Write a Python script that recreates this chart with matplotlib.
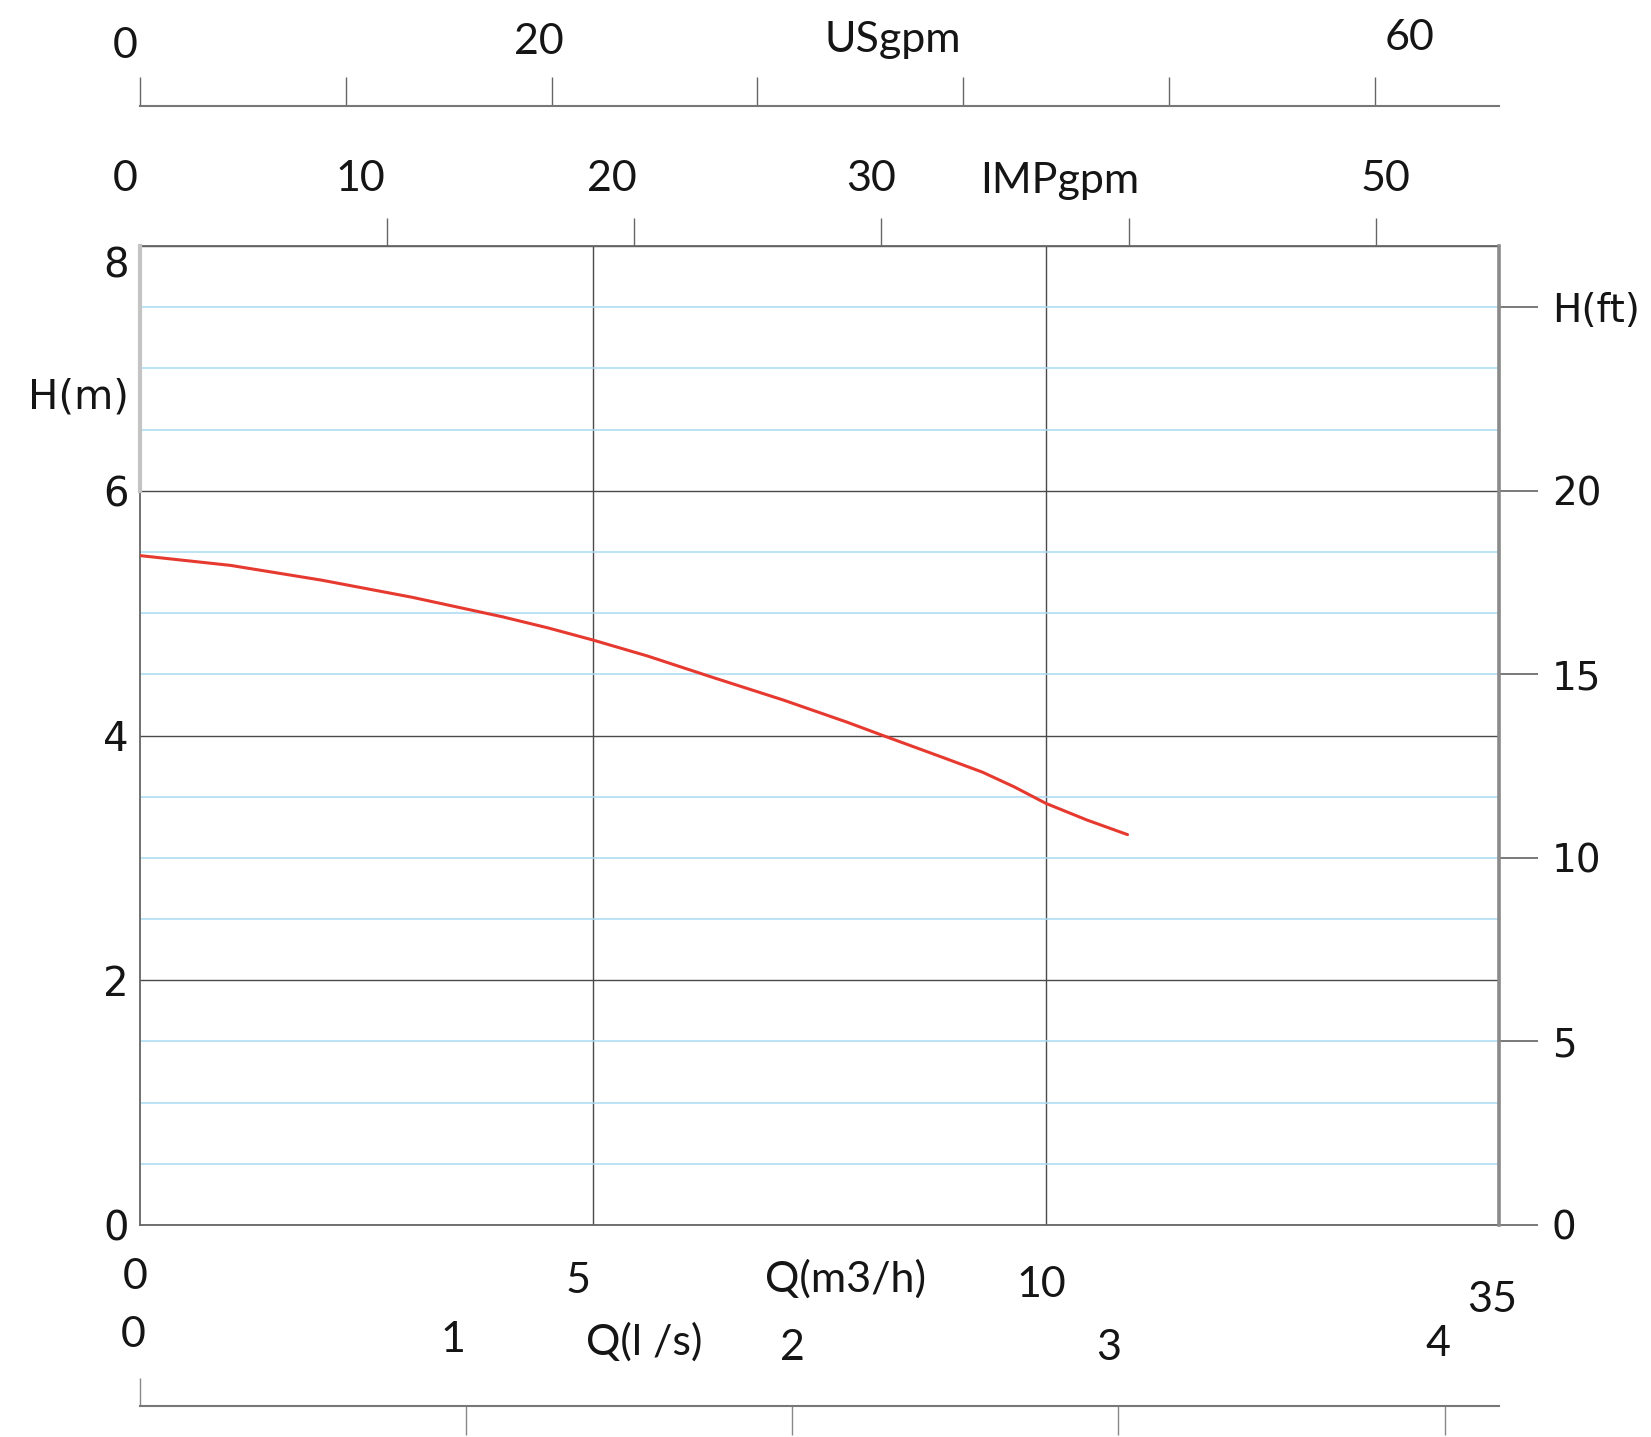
import numpy as np
import matplotlib
matplotlib.use("Agg")
import matplotlib.pyplot as plt
from matplotlib.transforms import blended_transform_factory as blend

# ---------------- data ----------------
flow_m3h = [0, 0.5, 1, 1.5, 2, 2.5, 3, 3.5, 4, 4.5, 5, 5.6, 6.3, 7.1, 7.8, 8.2, 8.9, 9.3,
            9.65, 10, 10.45, 10.9]
head_m = [5.47, 5.43, 5.39, 5.33, 5.27, 5.20, 5.13, 5.05, 4.97, 4.88, 4.78, 4.65,
          4.48, 4.29, 4.11, 4.00, 3.81, 3.70, 3.58, 3.445, 3.31, 3.19]

x_max_m3h = 15
y_max_m = 8
m3h_grid = [5, 10]
head_major = [0, 2, 4, 6, 8]
head_minor = list(np.arange(0, 8.01, 0.5))

US_PER_M3H = 4.403
IMP_PER_M3H = 3.666
LS_PER_M3H = 1 / 3.6
M_PER_FT = 0.3

us_ticks = [0, 10, 20, 30, 40, 50, 60]
us_labels = ["0", "20", "USgpm", "60"]
us_label_at = [-0.7, 19.4, 36.6, 61.7]

imp_ticks = [10, 20, 30, 40, 50]
imp_labels = ["0", "10", "20", "30", "IMPgpm", "50"]
imp_label_at = [-0.6, 8.9, 19.1, 29.6, 37.2, 50.4]

m3h_labels = ["0", "5", "Q(m3/h)", "10", "35"]
m3h_label_at = [-0.05, 4.84, 7.79, 9.95, 14.92]

ls_ticks = [1, 2, 3, 4]
ls_labels = ["0", "1", "Q(l /s)", "2", "3", "4"]
ls_label_at = [-0.02, 0.96, 1.545, 2.0, 2.97, 3.98]

ft_ticks = [0, 5, 10, 15, 20, 25]
ft_labels = ["0", "5", "10", "15", "20", "H(ft)"]

# ---------------- layout ----------------
W, H = 1651, 1437
fig = plt.figure(figsize=(W / 100, H / 100), dpi=100)
fig.patch.set_facecolor("white")


def fy(px):
    return 1 - px / H


L, R, T, B = 140, 1499, 246, 1225
ax = fig.add_axes([L / W, fy(B), (R - L) / W, (B - T) / H])
ax.set_xlim(0, x_max_m3h)
ax.set_ylim(0, y_max_m)

TXT = "#151515"
SANS = "Lato"
VER = "DejaVu Sans"

# grid
ax.set_xticks(m3h_grid)
ax.set_yticks(head_major)
ax.set_yticks(head_minor, minor=True)
ax.grid(which="major", axis="both", color="#4a4a4a", lw=1.0, zorder=1)
ax.grid(which="minor", axis="y", color="#a8daf2", lw=1.1, zorder=1)
ax.tick_params(axis="x", which="both", length=0, labelbottom=False)
ax.tick_params(axis="y", which="both", length=0, pad=8, labelsize=29, labelcolor=TXT)
ax.set_yticklabels([str(v) for v in head_major])
for lab in ax.get_yticklabels():
    lab.set_fontfamily(VER)
ax.get_yticklabels()[-1].set_verticalalignment("top")
for s in ax.spines.values():
    s.set_color("#666666")
    s.set_linewidth(1.3)
ax.plot([0, 0], [6, 8], color="#c4c4c4", lw=3.0, clip_on=False, zorder=3)

# curve
ax.plot(flow_m3h, head_m, color="#e63a30", lw=2.2, zorder=4,
        solid_capstyle="round", solid_joinstyle="round")

# H(m) label
fig.text(78 / W, fy(398), "H(m)", ha="center", va="center", fontsize=29,
         family=VER, color=TXT)

# right ft axis
ax2 = ax.twinx()
ax2.set_ylim(0, y_max_m / M_PER_FT)
ax2.set_yticks(ft_ticks)
ax2.set_yticklabels(ft_labels)
ax2.tick_params(axis="y", direction="out", length=28, width=1.1, color="#555555",
                pad=10, labelsize=28, labelcolor=TXT)
for lab in ax2.get_yticklabels():
    lab.set_fontfamily(VER)
for i, t in enumerate(ax2.yaxis.get_major_ticks()):
    if ft_ticks[i] in (10, 15):
        t.tick2line.set_color("#b0b0b0")
for k, s in ax2.spines.items():
    if k == "right":
        s.set_color("#8a8a8a")
        s.set_linewidth(2.6)
    else:
        s.set_visible(False)

# top IMPgpm axis (ticks on plot top border)
ax_imp = ax.secondary_xaxis("top", functions=(lambda q: q * IMP_PER_M3H,
                                              lambda g: g / IMP_PER_M3H))
ax_imp.set_xticks(imp_ticks)
ax_imp.set_xticklabels([""] * len(imp_ticks))
ax_imp.tick_params(direction="out", length=20, width=1.0, color="#666666")
ax_imp.spines["top"].set_visible(False)

# USgpm axis line
ax_us = fig.add_axes([L / W, fy(106), (R - L) / W, 1 / H])
ax_us.set_xlim(0, x_max_m3h * US_PER_M3H)
ax_us.set_xticks(us_ticks)
ax_us.set_xticklabels([])
ax_us.tick_params(axis="x", direction="in", length=21, width=1.0, color="#666666")
ax_us.set_yticks([])
ax_us.patch.set_visible(False)
for k, s in ax_us.spines.items():
    if k == "bottom":
        s.set_color("#777777")
        s.set_linewidth(1.5)
    else:
        s.set_visible(False)

# l/s axis line
ax_ls = fig.add_axes([L / W, fy(1406), (R - L) / W, 1 / H])
ax_ls.set_xlim(0, x_max_m3h * LS_PER_M3H)
ax_ls.set_xticks(ls_ticks)
ax_ls.set_xticks([0], minor=True)
ax_ls.set_xticklabels([])
ax_ls.tick_params(axis="x", which="major", direction="out", length=21, width=1.0,
                  color="#888888")
ax_ls.tick_params(axis="x", which="minor", direction="in", length=20, width=1.0,
                  color="#888888")
ax_ls.set_yticks([])
ax_ls.patch.set_visible(False)
for k, s in ax_ls.spines.items():
    if k == "bottom":
        s.set_color("#777777")
        s.set_linewidth(1.5)
    else:
        s.set_visible(False)

# axis texts (x in each unit converted to m3/h, y in figure px)
tr = blend(ax.transData, fig.transFigure)
us_y = [46, 42, 40, 38]
for lab, v, yy in zip(us_labels, us_label_at, us_y):
    ax.text(v / US_PER_M3H, fy(yy), lab, transform=tr, ha="center", va="center",
            fontsize=31, family=SANS, color=TXT, clip_on=False)
imp_y = [179, 179, 179, 179, 181, 179]
for lab, v, yy in zip(imp_labels, imp_label_at, imp_y):
    ax.text(v / IMP_PER_M3H, fy(yy), lab, transform=tr, ha="center", va="center",
            fontsize=31, family=SANS, color=TXT, clip_on=False)
m3h_y = [1277, 1281, 1279, 1285, 1300]
for lab, v, yy in zip(m3h_labels, m3h_label_at, m3h_y):
    ax.text(v, fy(yy), lab, transform=tr, ha="center", va="center",
            fontsize=31, family=SANS, color=TXT, clip_on=False)
ls_y = [1335, 1340, 1342, 1348, 1348, 1344]
for lab, v, yy in zip(ls_labels, ls_label_at, ls_y):
    ax.text(v / LS_PER_M3H, fy(yy), lab, transform=tr, ha="center", va="center",
            fontsize=31, family=SANS, color=TXT, clip_on=False)

fig.savefig("out.png", dpi=100, facecolor="white")
